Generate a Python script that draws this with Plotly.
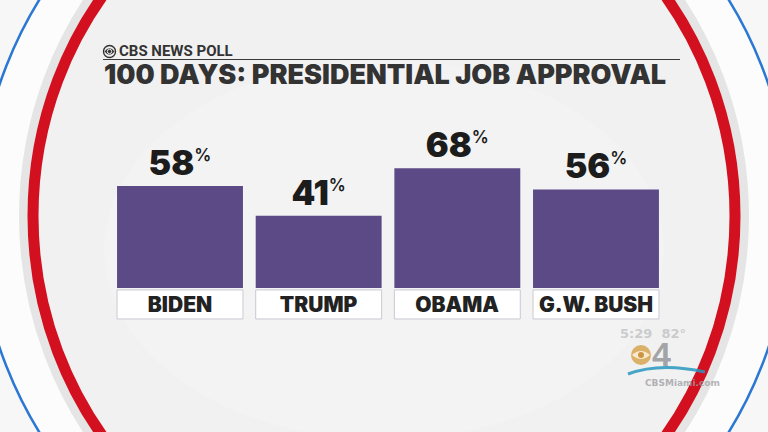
import plotly.graph_objects as go

presidents = ["BIDEN", "TRUMP", "OBAMA", "G.W. BUSH"]
approval = [58, 41, 68, 56]

title = "100 DAYS: PRESIDENTIAL JOB APPROVAL"
kicker = "CBS NEWS POLL"

W, H = 768, 432
PURPLE = "#5b4a86"
INK = "#222222"
FONT = "Inter"

# label boxes sit just under the bars (in axis units)
BOX_TOP = -1.1
BOX_BOTTOM = -17.6


def px(x):
    return x / W


def py(y):
    return 1 - y / H


def ellipse(cx, cy, a, b, **kw):
    return dict(type="circle", xref="paper", yref="paper",
                x0=px(cx - a), x1=px(cx + a), y0=py(cy + b), y1=py(cy - b),
                layer="below", **kw)


label_boxes = go.Bar(
    x=presidents,
    y=[BOX_TOP - BOX_BOTTOM] * len(presidents),
    base=[BOX_BOTTOM] * len(presidents),
    marker=dict(color="#ffffff", line=dict(color="#c9c9d3", width=1)),
    text=presidents,
    textposition="inside",
    insidetextanchor="middle",
    constraintext="none",
    textangle=0,
    textfont=dict(family=FONT, size=21, color=INK, weight=900),
    hoverinfo="skip",
)

bars = go.Bar(
    x=presidents,
    y=approval,
    marker=dict(color=PURPLE, line=dict(width=0)),
    texttemplate="%{y}<sup><span style='font-size:17px;font-weight:600'>%</span></sup>",
    textposition="outside",
    constraintext="none",
    cliponaxis=False,
    textfont=dict(family=FONT, size=34, color="#1c1c1c", weight=900),
)

fig = go.Figure(data=[label_boxes, bars])

shapes = [
    # studio background rings
    ellipse(384, 216, 405, 408, line=dict(width=0), fillcolor="#fcfcfc"),
    ellipse(384, 216, 358, 375, line=dict(width=14, color="rgba(0,0,0,0.09)")),
    ellipse(384, 216, 351, 368, line=dict(width=0), fillcolor="#f1f1f1"),
    ellipse(384, 250, 280, 190, line=dict(width=0), fillcolor="rgba(252,252,252,0.25)"),
    ellipse(384, 216, 351, 368, line=dict(width=11, color="#d2101f")),
    ellipse(384, 216, 406, 409, line=dict(width=2.5, color="#2b78d4")),
    # rule under the kicker
    dict(type="line", xref="paper", yref="paper", x0=px(103), x1=px(680),
         y0=py(59.5), y1=py(59.5), line=dict(color="#3a3a3a", width=1.2)),
    # cbs eye
    ellipse(109.5, 51.5, 6, 6, line=dict(color="#333333", width=1.4)),
    dict(type="path", xref="paper", yref="paper", layer="above",
         path=f"M {px(104.5)},{py(51.5)} Q {px(109.5)},{py(45)} {px(114.5)},{py(51.5)} "
              f"Q {px(109.5)},{py(58)} {px(104.5)},{py(51.5)} Z",
         fillcolor="#333333", line=dict(width=0)),
    dict(type="circle", xref="paper", yref="paper", layer="above",
         x0=px(107.3), x1=px(111.7), y0=py(53.7), y1=py(49.3),
         fillcolor="#333333", line=dict(color="#f0f0f0", width=1)),
    # station bug
    ellipse(641, 355, 10, 10, line=dict(width=0), fillcolor="rgba(214,160,70,0.8)"),
    dict(type="path", xref="paper", yref="paper", layer="above",
         path=f"M {px(632)},{py(355)} Q {px(641)},{py(347)} {px(650)},{py(355)} "
              f"Q {px(641)},{py(363)} {px(632)},{py(355)} Z",
         fillcolor="rgba(250,240,215,0.9)", line=dict(width=0)),
    dict(type="circle", xref="paper", yref="paper", layer="above",
         x0=px(638), x1=px(644), y0=py(358), y1=py(352),
         fillcolor="rgba(200,140,50,0.9)", line=dict(width=0)),
    dict(type="path", xref="paper", yref="paper", layer="above",
         path=f"M {px(628)},{py(374)} Q {px(660)},{py(362)} {px(705)},{py(372)}",
         line=dict(color="rgba(40,150,190,0.85)", width=3)),
]

annotations = [
    dict(text=kicker, x=px(117), y=py(51), xref="paper", yref="paper",
         xanchor="left", yanchor="middle", showarrow=False,
         font=dict(family="Roboto", size=15, color="#333333", weight=700)),
    dict(text=title, x=px(102), y=py(74.5), xref="paper", yref="paper",
         xanchor="left", yanchor="middle", showarrow=False,
         font=dict(family=FONT, size=27, color="#333333", weight=900)),
    dict(text="5:29  82°", x=px(618), y=py(333), xref="paper", yref="paper",
         xanchor="left", yanchor="middle", showarrow=False,
         font=dict(family="DejaVu Sans", size=13, color="rgba(170,170,170,0.55)", weight="bold")),
    dict(text="4", x=px(650), y=py(354), xref="paper", yref="paper",
         xanchor="left", yanchor="middle", showarrow=False,
         font=dict(family="Liberation Sans", size=34, color="rgba(150,150,155,0.85)", weight="bold")),
    dict(text="CBSMiami.com", x=px(643), y=py(383), xref="paper", yref="paper",
         xanchor="left", yanchor="middle", showarrow=False,
         font=dict(family="DejaVu Sans", size=9, color="rgba(160,160,165,0.8)", weight="bold")),
]

fig.update_layout(
    width=W,
    height=H,
    margin=dict(l=0, r=0, t=0, b=0),
    paper_bgcolor="#f7f7f7",
    plot_bgcolor="rgba(0,0,0,0)",
    barmode="overlay",
    bargap=0.092,
    showlegend=False,
    xaxis=dict(domain=[0.1441, 0.8663], range=[-0.5, 3.5], type="category", visible=False),
    yaxis=dict(domain=[0.2519, 0.7407], range=[-20, 100], visible=False),
    shapes=shapes,
    annotations=annotations,
)

fig.write_html("out.html", config={"displayModeBar": False},
               post_script="document.body.style.margin='0';")
